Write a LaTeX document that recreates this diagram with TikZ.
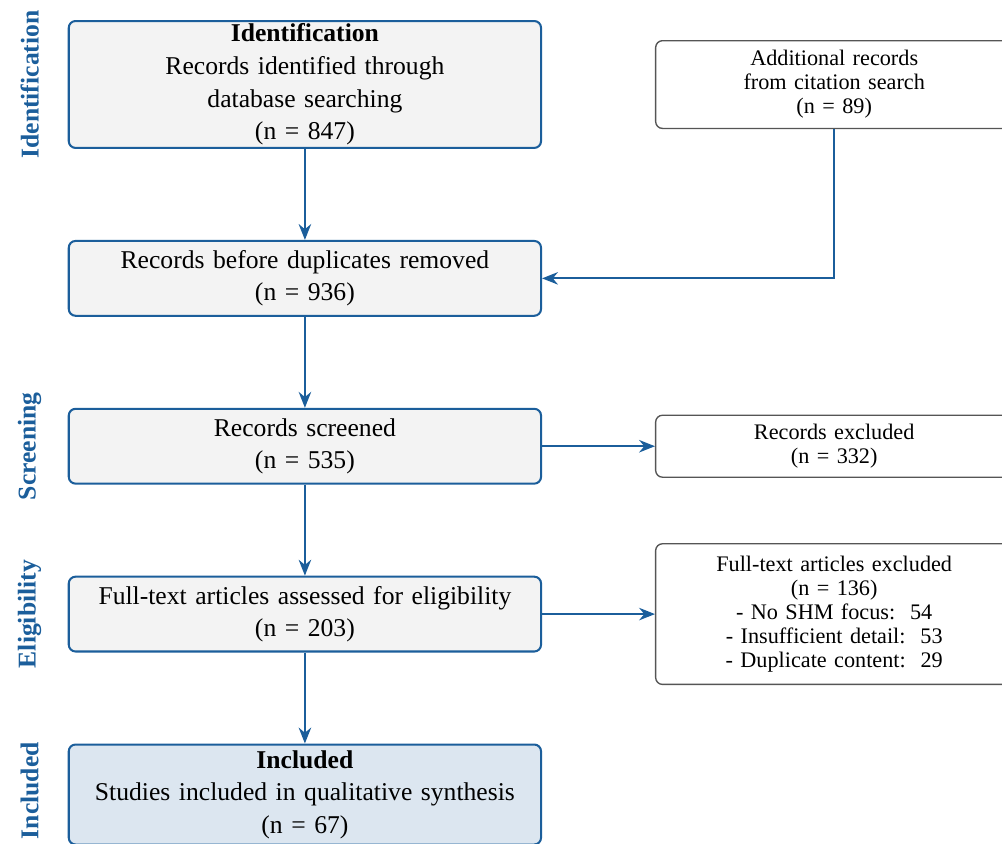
\documentclass[tikz,border=0pt]{standalone}
\usepackage{fontspec}
\setmainfont{Liberation Serif}
\usepackage{xcolor}
\definecolor{prblue}{HTML}{1B5E9B}
\definecolor{prgray}{HTML}{F3F3F3}
\definecolor{prlightblue}{HTML}{DCE6F0}
\definecolor{prborder}{HTML}{555555}
\usetikzlibrary{positioning,arrows.meta}

\begin{document}
\begin{tikzpicture}[font=\fontsize{11.3}{14.4}\selectfont, node distance=1.41cm and 1.75cm]
    \tikzstyle{stage}=[draw=prblue, fill=prgray, line width=0.9pt, rounded corners=3pt,
                       minimum width=7.32cm, minimum height=1.16cm, text width=7.05cm,
                       align=center, inner ysep=1.2pt]
    \tikzstyle{side}=[draw=prborder, fill=white, line width=0.6pt, rounded corners=3pt,
                      minimum width=5.52cm, text width=5.3cm, align=center,
                      font=\fontsize{9.8}{10.6}\selectfont]
    \tikzstyle{arrow}=[draw=prblue, line width=0.9pt, -{Stealth[length=7pt,width=5.5pt]}]
    \tikzstyle{phase}=[rotate=90, text=prblue, font=\fontsize{11.3}{14.4}\selectfont\bfseries]

    \node[stage] (ident) {\textbf{Identification}\\Records identified through\\database searching\\(n = 847)};
    \node[stage, below=of ident] (dup)  {Records before duplicates removed\\(n = 936)};
    \node[stage, below=of dup]   (scr)  {Records screened\\(n = 535)};
    \node[stage, below=of scr]   (elig) {Full-text articles assessed for eligibility\\(n = 203)};
    \node[stage, below=of elig, fill=prlightblue, minimum height=1.55cm] (incl)
          {\textbf{Included}\\Studies included in qualitative synthesis\\(n = 67)};

    \node[side, below right=0.31cm and 1.75cm of ident.north east, minimum height=1.36cm] (addl)
          {Additional records\\from citation search\\(n = 89)};
    \node[side, right=of scr, minimum height=0.96cm] (excl) {Records excluded\\(n = 332)};
    \node[side, right=of elig, minimum height=2.18cm] (ftex)
          {Full-text articles excluded\\(n = 136)\\- No SHM focus:\ \ 54\\- Insufficient detail:\ \ 53\\- Duplicate content:\ \ 29};

    \draw[arrow] (ident) -- (dup);
    \draw[arrow] (dup) -- (scr);
    \draw[arrow] (scr) -- (elig);
    \draw[arrow] (elig) -- (incl);
    \draw[arrow] (addl.south) |- (dup.east);
    \draw[arrow] (scr) -- (excl);
    \draw[arrow] (elig) -- (ftex);

    \node[phase] (l1) at ([xshift=-0.59cm]ident.west) {Identification};
    \node[phase] (l2) at ([xshift=-0.59cm]scr.west)   {Screening};
    \node[phase] (l3) at ([xshift=-0.59cm]elig.west)  {Eligibility};
    \node[phase] (l4) at ([xshift=-0.59cm, yshift=0.06cm]incl.west)  {Included};

    \pgfresetboundingbox
    \useasboundingbox ([xshift=-1.05cm, yshift=0.31cm]ident.north west) rectangle ++(15.53,-13.07);
\end{tikzpicture}
\end{document}
